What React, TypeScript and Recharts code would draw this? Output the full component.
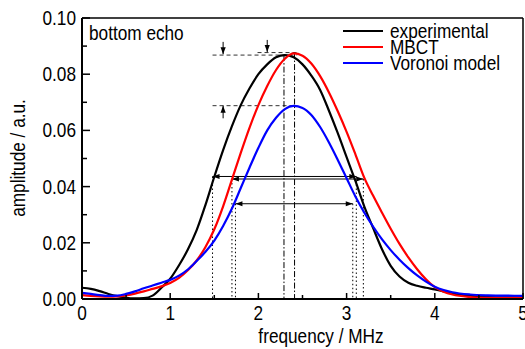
import React from "react";
import {
  LineChart,
  Line,
  XAxis,
  YAxis,
  ReferenceLine,
  Legend,
  Customized,
} from "recharts";

// frequency grid (MHz)
const frequency = [
  0, 0.1, 0.2, 0.3, 0.4, 0.5, 0.6, 0.7, 0.8, 0.9, 1.0, 1.1, 1.2, 1.3, 1.4, 1.5,
  1.6, 1.7, 1.8, 1.9, 2.0, 2.1, 2.2, 2.3, 2.4, 2.5, 2.6, 2.7, 2.8, 2.9, 3.0,
  3.1, 3.2, 3.3, 3.4, 3.5, 3.6, 3.7, 3.8, 3.9, 4.0, 4.1, 4.2, 4.4, 4.6, 4.8,
  5.0,
];

const experimental = [
  0.004, 0.0036, 0.0028, 0.0018, 0.001, 0.0004, 0.0002, 0.0003, 0.0012, 0.004,
  0.0072, 0.012, 0.0176, 0.0245, 0.0335, 0.0435, 0.053, 0.0615, 0.069, 0.075,
  0.08, 0.0835, 0.086, 0.0868, 0.086, 0.0835, 0.0795, 0.0744, 0.067, 0.059,
  0.0505, 0.042, 0.033, 0.0253, 0.0178, 0.0118, 0.008, 0.0058, 0.0047, 0.004,
  0.0034, 0.0027, 0.002, 0.0011, 0.0007, 0.0006, 0.0005,
];

const mbct = [
  0.0014, 0.0011, 0.0009, 0.0008, 0.0009, 0.0013, 0.0019, 0.0027, 0.0036,
  0.0045, 0.0057, 0.0075, 0.0102, 0.0137, 0.0185, 0.0248, 0.033, 0.0425, 0.052,
  0.061, 0.069, 0.0758, 0.0815, 0.0855, 0.0874, 0.0866, 0.0838, 0.0793, 0.0735,
  0.0668, 0.0595, 0.0515, 0.0432, 0.0368, 0.0308, 0.025, 0.0196, 0.0148,
  0.0106, 0.007, 0.0042, 0.0026, 0.0016, 0.0007, 0.0004, 0.0003, 0.0003,
];

const voronoi = [
  0.0022, 0.0018, 0.0014, 0.0011, 0.0012, 0.0018, 0.0027, 0.0038, 0.0048,
  0.0058, 0.0068, 0.0083, 0.0105, 0.0135, 0.0168, 0.0208, 0.026, 0.0322,
  0.0395, 0.0468, 0.0538, 0.06, 0.0645, 0.0676, 0.0687, 0.068, 0.0655, 0.0612,
  0.0557, 0.0495, 0.043, 0.0365, 0.0308, 0.0258, 0.0213, 0.0174, 0.014, 0.011,
  0.0084, 0.0062, 0.0044, 0.0032, 0.0024, 0.0016, 0.0013, 0.0012, 0.0011,
];

const seriesNames = ["experimental", "MBCT", "Voronoi model"];
const xTicks = [0, 0.5, 1, 1.5, 2, 2.5, 3, 3.5, 4, 4.5, 5];
const yTicks = [0, 0.01, 0.02, 0.03, 0.04, 0.05, 0.06, 0.07, 0.08, 0.09, 0.1];

// width markers: [f start, f end, amplitude]
const widthArrows = [
  [1.48, 3.11, 0.0436],
  [1.7, 3.19, 0.0427],
  [1.74, 3.07, 0.0339],
];
// dotted drop lines: [f, amplitude]
const dropLines = [
  [1.48, 0.0436],
  [1.7, 0.0427],
  [1.74, 0.0339],
  [3.07, 0.0339],
  [3.11, 0.0436],
  [3.19, 0.0427],
];
// peak dash-dot lines: [f, amplitude]
const peakLines = [
  [2.29, 0.0868],
  [2.41, 0.0877],
];
// dashed peak levels: [f start, f end, amplitude]
const peakLevels = [
  [1.48, 2.44, 0.0868],
  [1.99, 2.44, 0.0877],
  [1.48, 2.44, 0.0688],
];
// small vertical arrows: [f, from, to]
const smallArrows = [
  [1.6, 0.0915, 0.0871],
  [2.1, 0.0922, 0.0879],
  [1.6, 0.0643, 0.0688],
];

const rows = frequency.map((f, i) => ({
  f,
  experimental: experimental[i],
  mbct: mbct[i],
  voronoi: voronoi[i],
}));

const FONT = "'Liberation Sans', Arial, sans-serif";
const FS = 21;
const SQUEEZE = 0.82;

// narrow-looking svg text
const NText = ({ x, y, anchor = "start", rotate = 0, children }: any) => (
  <text
    transform={`translate(${x},${y}) rotate(${rotate}) scale(${SQUEEZE},1)`}
    textAnchor={anchor}
    fontFamily={FONT}
    fontSize={FS}
    fill="#000"
  >
    {children}
  </text>
);

const head = (x: number, y: number, a: number) => {
  const L = 7;
  const W = 2.6;
  const bx = x - L * Math.cos(a);
  const by = y - L * Math.sin(a);
  return `${x},${y} ${bx - W * Math.sin(a)},${by + W * Math.cos(a)} ${bx + W * Math.sin(a)},${by - W * Math.cos(a)}`;
};

const arrowShape = (both: boolean) => (p: any) => {
  const { x1, y1, x2, y2 } = p;
  const a = Math.atan2(y2 - y1, x2 - x1);
  return (
    <g>
      <line x1={x1} y1={y1} x2={x2} y2={y2} stroke="#000" strokeWidth={1} />
      <polygon points={head(x2, y2, a)} fill="#000" />
      {both && <polygon points={head(x1, y1, a + Math.PI)} fill="#000" />}
    </g>
  );
};

const YTick = (props: any) => {
  const { x, y, payload } = props;
  const v = payload.value;
  const major = Math.round(v * 100) % 2 === 0;
  const ax = x + 6;
  return (
    <g>
      <line x1={ax} x2={ax + (major ? 8 : 5)} y1={y} y2={y} stroke="#000" strokeWidth={1.5} />
      {major && (
        <NText x={x} y={y + 7} anchor="end">
          {v.toFixed(2)}
        </NText>
      )}
    </g>
  );
};

const XTick = (props: any) => {
  const { x, y, payload } = props;
  const v = payload.value;
  const major = Number.isInteger(v);
  const ay = y - 4;
  return (
    <g>
      <line x1={x} x2={x} y1={ay} y2={ay - (major ? 6 : 4)} stroke="#000" strokeWidth={1.5} />
      {major && (
        <NText x={x} y={ay + 21} anchor="middle">
          {v}
        </NText>
      )}
    </g>
  );
};

const Titles = () => (
  <g>
    <NText x={89} y={40}>bottom echo</NText>
    <NText x={321} y={343} anchor="middle">frequency / MHz</NText>
    <NText x={25} y={158} anchor="middle" rotate={-90}>
      amplitude / a.u.
    </NText>
  </g>
);

const renderLegend = (props: any) => {
  const items = [...props.payload].sort(
    (a: any, b: any) => seriesNames.indexOf(a.value) - seriesNames.indexOf(b.value)
  );
  return (
    <div style={{ fontFamily: FONT, fontSize: FS, color: "#000" }}>
      {items.map((p: any) => (
        <div key={p.value} style={{ display: "flex", alignItems: "center", height: 16 }}>
          <svg width={40} height={4} style={{ display: "block", flex: "none" }}>
            <line x1={0} x2={40} y1={2} y2={2} stroke={p.color} strokeWidth={2.2} />
          </svg>
          <span
            style={{
              marginLeft: 7,
              lineHeight: "16px",
              whiteSpace: "nowrap",
              display: "inline-block",
              transform: `scaleX(${SQUEEZE})`,
              transformOrigin: "left center",
            }}
          >
            {p.value}
          </span>
        </div>
      ))}
    </div>
  );
};

export default function App() {
  return (
    <div style={{ position: "absolute", left: 0, top: 0, background: "#fff" }}>
      <LineChart
        width={525}
        height={349}
        data={rows}
        margin={{ top: 18, right: 2, bottom: 10, left: 0 }}
      >
        <XAxis
          type="number"
          dataKey="f"
          domain={[0, 5]}
          ticks={xTicks}
          interval={0}
          tick={<XTick />}
          tickLine={false}
          tickSize={0}
          tickMargin={4}
          height={40}
          axisLine={{ stroke: "#000", strokeWidth: 2 }}
        />
        <YAxis
          type="number"
          domain={[0, 0.1]}
          ticks={yTicks}
          interval={0}
          tick={<YTick />}
          tickLine={false}
          tickSize={0}
          tickMargin={6}
          width={82}
          axisLine={{ stroke: "#000", strokeWidth: 2 }}
        />
        <ReferenceLine y={0.1} stroke="#000" strokeWidth={1.5} />
        <ReferenceLine x={5} stroke="#000" strokeWidth={1.5} />

        {peakLevels.map(([a, b, v], i) => (
          <ReferenceLine
            key={`pl${i}`}
            segment={[{ x: a, y: v }, { x: b, y: v }]}
            stroke="#333"
            strokeWidth={1}
            strokeDasharray="4 3"
          />
        ))}
        {peakLines.map(([f, v], i) => (
          <ReferenceLine
            key={`pk${i}`}
            segment={[{ x: f, y: v }, { x: f, y: 0 }]}
            stroke="#000"
            strokeWidth={1}
            strokeDasharray="6 2 1.5 2"
          />
        ))}
        {dropLines.map(([f, v], i) => (
          <ReferenceLine
            key={`dl${i}`}
            segment={[{ x: f, y: v }, { x: f, y: 0 }]}
            stroke="#000"
            strokeWidth={1}
            strokeDasharray="1.5 2.5"
          />
        ))}
        {widthArrows.map(([a, b, v], i) => (
          <ReferenceLine
            key={`wa${i}`}
            segment={[{ x: a, y: v }, { x: b, y: v }]}
            shape={arrowShape(true)}
          />
        ))}
        {smallArrows.map(([f, a, b], i) => (
          <ReferenceLine
            key={`sa${i}`}
            segment={[{ x: f, y: a }, { x: f, y: b }]}
            shape={arrowShape(false)}
          />
        ))}

        <Line
          type="monotone"
          dataKey="experimental"
          name={seriesNames[0]}
          stroke="#000000"
          strokeWidth={2.2}
          dot={false}
          isAnimationActive={false}
        />
        <Line
          type="monotone"
          dataKey="mbct"
          name={seriesNames[1]}
          stroke="#ff0000"
          strokeWidth={2.2}
          dot={false}
          isAnimationActive={false}
        />
        <Line
          type="monotone"
          dataKey="voronoi"
          name={seriesNames[2]}
          stroke="#0000ff"
          strokeWidth={2.2}
          dot={false}
          isAnimationActive={false}
        />
        <Legend
          layout="horizontal"
          verticalAlign="middle"
          align="center"
          content={renderLegend}
          wrapperStyle={{ left: 343, top: 23, width: 180, height: 50 }}
        />
        <Customized component={Titles} />
      </LineChart>
    </div>
  );
}
